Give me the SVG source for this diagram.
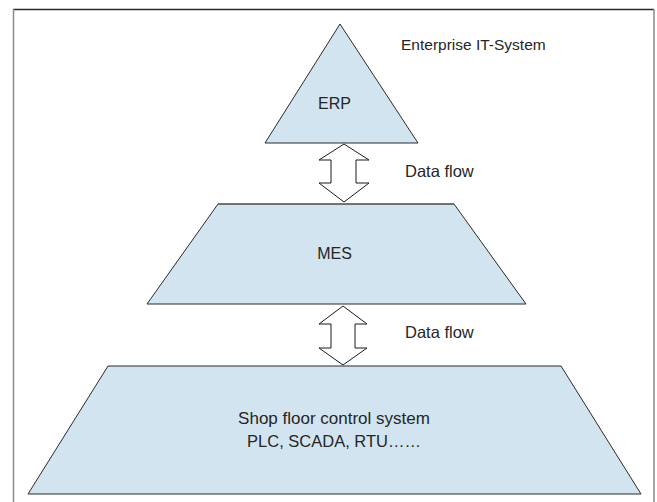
<svg xmlns="http://www.w3.org/2000/svg" width="657" height="502" viewBox="0 0 657 502">
<style>
.lvl{fill:#d2e4f0;stroke:#2b2b2b;stroke-width:1;stroke-linejoin:miter}
.arr{fill:#ffffff;stroke:#1a1a1a;stroke-width:1}
text{font-family:"Liberation Sans",Arial,sans-serif;font-size:16px;fill:#262626}
.c{text-anchor:middle}
</style>
<rect width="657" height="502" fill="#ffffff"/>
<g id="frame">
<line x1="13" y1="9.5" x2="654" y2="9.5" stroke="#2a2a2a" stroke-width="1.5"/>
<line x1="13.5" y1="9" x2="13.5" y2="502" stroke="#8a8a8a" stroke-width="1.5"/>
<line x1="654" y1="9" x2="654" y2="502" stroke="#8a8a8a" stroke-width="1.5"/>
</g>
<g id="erp">
<polygon class="lvl" points="340,24 418,143 265,143"/>
<text class="c" x="334.5" y="109">ERP</text>
</g>
<g id="enterprise-label">
<text x="401" y="50" style="font-size:15.5px">Enterprise IT-System</text>
</g>
<g id="mes">
<polygon class="lvl" points="218,204 454,204 526,304 147,304"/>
<line x1="218" y1="204" x2="454" y2="204" stroke="#6a6a6a" stroke-width="1.5"/>
<text class="c" x="334.5" y="259">MES</text>
</g>
<g id="shopfloor">
<polygon class="lvl" points="108,366 561,366 641,494 28,494"/>
<text class="c" x="334" y="424" style="font-size:17px">Shop floor control system</text>
<text class="c" x="334" y="447" style="font-size:16.5px">PLC, SCADA, RTU……</text>
</g>
<g id="connectors">
<polygon class="arr" points="344,144 369,160 356,160 356,183 369,183 344,202 319,183 331,183 331,160 319,160"/>
<polygon class="arr" points="343,306 367,324 355,324 355,348 367,348 343,365 319,348 331,348 331,324 319,324"/>
<text x="405" y="177" style="font-size:16.5px">Data flow</text>
<text x="405" y="338" style="font-size:16.5px">Data flow</text>
</g>
</svg>
